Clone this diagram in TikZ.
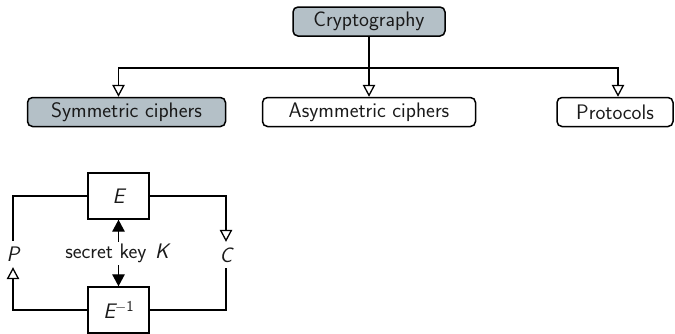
\documentclass[tikz,border=0pt]{standalone}
\usepackage{fontspec}
\usetikzlibrary{arrows.meta,calc}
\definecolor{boxfill}{HTML}{B4C0C7}
\definecolor{ink}{HTML}{1A1A1A}
\tikzset{
  every node/.style={font=\sffamily\fontsize{21}{25}\selectfont, text=ink},
  treebox/.style={draw=black, line width=1.5pt, rounded corners=5pt, minimum height=29pt, inner sep=2pt},
  shaded/.style={treebox, fill=boxfill},
  blockbox/.style={draw=black, line width=1.4pt, minimum width=61pt, minimum height=46pt},
  wire/.style={draw=black, line width=1.3pt},
  openlink/.style={wire, -{Triangle[open, length=12pt, width=12.5pt, line width=1.3pt]}},
  keylink/.style={wire, -{Triangle[length=12pt, width=12.5pt]}},
  label/.style={inner sep=1pt}
}
\begin{document}
\begin{tikzpicture}[x=1pt, y=-1pt]
  \useasboundingbox (0,0) rectangle (675,333);

  % classification tree
  \node[shaded, minimum width=152pt] (crypto) at (369,21.5) {Cryptography};
  \node[shaded, minimum width=198pt] (sym) at (126.5,112) {Symmetric ciphers};
  \node[treebox, minimum width=213pt] (asym) at (369,112) {Asymmetric ciphers};
  \node[treebox, minimum width=116pt] (proto) at (615,112) {Protocols};
  \coordinate (bus) at (369,68);

  \draw[openlink] (crypto.south) -- (bus) -| ($(sym.north)+(-8,0)$);
  \draw[openlink] (crypto.south) -- (asym.north);
  \draw[openlink] (bus) -| ($(proto.north)+(3,0)$);

  % symmetric cipher scheme
  \node[blockbox] (E) at (118.5,196) {\itshape E};
  \node[blockbox] (Einv) at (118.5,310) {{\itshape E}\raisebox{7pt}{\fontsize{15}{17}\selectfont$-$1}};
  \node[label, minimum height=26pt] (P) at (13,254) {\itshape P};
  \node[label, minimum height=26pt] (C) at (226,255) {\itshape C};
  \node[label, minimum height=23pt] (key) at (117,253.5) {secret key \hspace{2pt}{\itshape K}};

  \draw[wire] (E.west) -| (P.north);
  \draw[openlink] (Einv.west) -| (P.south);
  \draw[openlink] (E.east) -| (C.north);
  \draw[wire] (C.south) |- (Einv.east);
  \draw[keylink] (E.south |- key.north) -- (E.south);
  \draw[keylink] (Einv.north |- key.south) -- (Einv.north);
\end{tikzpicture}
\end{document}
